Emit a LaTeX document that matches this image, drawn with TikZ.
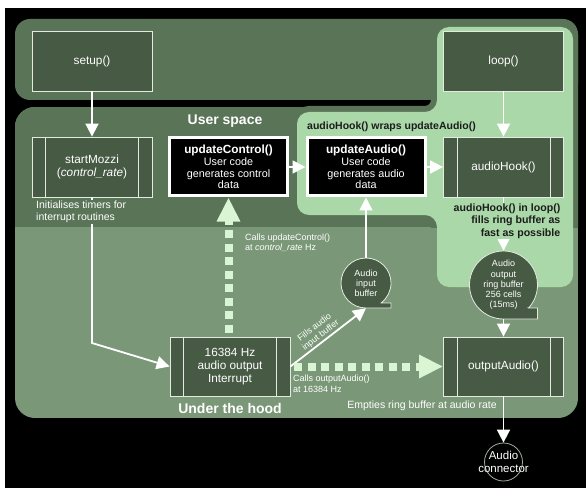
\documentclass[tikz,border=0pt]{standalone}
\usepackage{fontspec}
\setmainfont{Liberation Sans}
\usetikzlibrary{arrows.meta}
\definecolor{bandgreen}{HTML}{5A7457}
\definecolor{hoodgreen}{HTML}{7A9878}
\definecolor{lightgreen}{HTML}{AAD8A8}
\definecolor{boxgreen}{HTML}{465A44}
\definecolor{dashgreen}{HTML}{D9F5D3}
\definecolor{edgegray}{HTML}{E4EAE2}
\definecolor{connedge}{HTML}{9FB09C}
\definecolor{darktext}{HTML}{1C1C1C}
\newcommand\myfs[2]{\fontsize{#1}{#2}\selectfont}
\begin{document}
\begin{tikzpicture}[x=1pt,y=-1pt,
  box/.style={draw=edgegray, line width=0.8pt, fill=boxgreen, minimum width=120pt, minimum height=60pt, inner sep=0pt, text=white, font=\myfs{11.8}{13}, align=center},
  ublack/.style={draw=white, line width=3pt, fill=black, minimum width=118pt, minimum height=58pt, inner sep=0pt, text=white, font=\myfs{10.8}{11.6}, align=center},
  wire/.style={white, line width=1.8pt, -{Triangle[width=13pt,length=13pt]}},
  calls/.style={dashgreen, line width=8pt, dash pattern=on 8pt off 5.5pt, -{Triangle[width=22pt,length=24pt]}},
  note/.style={text=white, inner sep=0pt, align=left},
  tapetext/.style={circle, inner sep=0pt, text=white, align=center},
  strip/.style={edgegray, line width=0.8pt},
  tape/.style={fill=boxgreen, draw=edgegray, line width=0.8pt}
]
\useasboundingbox (0,0) rectangle (586,489);
\fill[white] (0,0) rectangle (586,489);
\fill[black] (5,8) rectangle (586,488);
% panels
\fill[bandgreen, rounded corners=15pt] (15,19) rectangle (578,100);
\begin{scope}
  \clip[rounded corners=20pt] (15,107) rectangle (578,418);
  \fill[hoodgreen] (15,107) rectangle (578,418);
  \fill[bandgreen] (15,107) rectangle (578,227);
\end{scope}
\begin{scope}
  \clip (0,0) rectangle (578,227);
  \draw[bandgreen, line width=12pt, rounded corners=12pt] (437,27) -- (573,27) -- (573,287) -- (437,287) -- (437,215) -- (297,215) -- (297,112) -- (437,112) -- cycle;
\end{scope}
\fill[lightgreen, rounded corners=12pt] (437,27) -- (573,27) -- (573,287) -- (437,287) -- (437,215) -- (297,215) -- (297,112) -- (437,112) -- cycle;
% tape shapes
\filldraw[tape] (381,303) -- (391,303) -- (391,308) -- (366,308) arc[start angle=90, end angle=413.13, radius=25] -- cycle;
\filldraw[tape] (528.5,308) -- (537.5,308) -- (537.5,319) -- (503.5,319) arc[start angle=90, end angle=402.6, radius=34] -- cycle;
% boxes
\node[box] (setup) at (92,61) {setup()};
\node[box] (loop) at (503.5,61) {loop()};
\node[box] (sm) at (92,167) {startMozzi\\(\textit{control\_rate})};
\node[ublack] (uctrl) at (228.5,167) {{\bfseries\myfs{11.8}{13}updateControl()}\\User code\\generates control\\data};
\node[ublack] (uaudio) at (366,167) {{\bfseries\myfs{11.8}{13}updateAudio()}\\User code\\generates audio\\data};
\node[box] (ahook) at (503.5,167) {audioHook()};
\node[box, minimum height=59pt, font=\myfs{11.8}{12.7}] (intr) at (230,366.5) {16384 Hz\\audio output\\Interrupt};
\node[box, minimum height=59pt] (outA) at (503.5,366.5) {outputAudio()};
\foreach \n in {sm,ahook,intr,outA}{
  \draw[strip] ([xshift=14pt]\n.north west) -- ([xshift=14pt]\n.south west);
  \draw[strip] ([xshift=-14pt]\n.north east) -- ([xshift=-14pt]\n.south east);
}
\node[tapetext, minimum size=50pt, font=\myfs{9}{10}] (inbuf) at (366,283) {Audio\\input\\buffer};
\node[tapetext, minimum size=68pt, font=\myfs{9}{10.3}] (ring) at (503.5,285) {Audio\\output\\ring buffer\\256 cells\\(15ms)};
\node[circle, draw=connedge, line width=0.8pt, fill=black, minimum size=38pt, inner sep=0pt] (conn) at (503.5,462) {};
\node[text=white, align=center, font=\myfs{11.5}{13}, inner sep=0pt] (conntxt) at (conn.center) {Audio\\connector};
\coordinate (bend) at (92,343);
% connectors
\draw[wire] (setup) -- (sm);
\draw[wire] (loop) -- (ahook);
\draw[wire] (uctrl) -- (uaudio);
\draw[wire] (uaudio) -- (ahook);
\draw[wire] (ahook) -- (ring);
\draw[wire] (ring) -- (outA);
\draw[wire] (outA) -- (conn);
\draw[wire] (inbuf) -- (uaudio);
\draw[wire] (sm.south) -- (bend) -- (intr.west);
\draw[wire] (intr.east) -- (inbuf.south) node[pos=0.45, sloped, above=1pt, text=white, align=center, font=\myfs{8.8}{10}, inner sep=0pt] (fillslbl) {Fills audio\\input buffer};
\draw[calls] ([xshift=4pt]intr.east) -- (outA.west);
\draw[calls] ([yshift=4pt]intr.north -| uctrl.south) -- (uctrl.south);
% texts
\node[note, font=\myfs{10.5}{12.5}, fill=bandgreen, inner sep=1pt, anchor=west] (initnote) at (35,212) {Initialises timers for\\interrupt routines};
\node[text=darktext, font=\bfseries\myfs{10.6}{12.5}, align=right, fill=lightgreen, inner sep=1pt, anchor=east] (hooknote) at (561.5,221) {audioHook() in loop()\\fills ring buffer as\\fast as possible};
\node[text=white, font=\bfseries\myfs{14}{16}, inner sep=0pt] (userspace) at (225,121) {User space};
\node[text=darktext, font=\bfseries\myfs{10.5}{12}, inner sep=0pt, anchor=west] (wraps) at (307,127) {audioHook() wraps updateAudio()};
\node[note, font=\myfs{9}{10.5}, anchor=west] (callsctrl) at (245,243) {Calls updateControl()\\at \textit{control\_rate} Hz};
\node[note, font=\myfs{9}{10.5}, anchor=west] (callsout) at (293,384) {Calls outputAudio()\\at 16384 Hz};
\node[text=white, font=\bfseries\myfs{14}{16}, inner sep=0pt] (hood) at (230,408) {Under the hood};
\node[text=white, font=\myfs{10.5}{12}, inner sep=0pt] (empties) at (422,406) {Empties ring buffer at audio rate};
\end{tikzpicture}
\end{document}
